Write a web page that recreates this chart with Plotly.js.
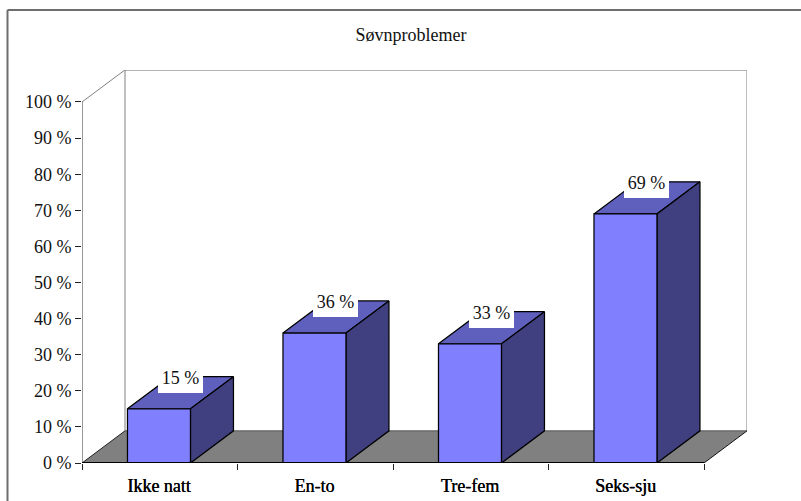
<!DOCTYPE html>
<html>
<head>
<meta charset="utf-8">
<script src="https://cdn.plot.ly/plotly-3.0.1.min.js"></script>
<style>html,body{margin:0;padding:0;background:#fff;overflow:hidden}</style>
</head>
<body>
<div id="chart" style="width:801px;height:501px"></div>
<script>
var chartTitle = "Søvnproblemer";
var categories = ["Ikke natt", "En-to", "Tre-fem", "Seks-sju"];
var values = [15, 36, 33, 69];
var labels = ["15 %", "36 %", "33 %", "69 %"];
var yTicks = [0, 10, 20, 30, 40, 50, 60, 70, 80, 90, 100];
var yTickLabels = ["0 %", "10 %", "20 %", "30 %", "40 %", "50 %", "60 %", "70 %", "80 %", "90 %", "100 %"];
var xBoundaries = [0, 1, 2, 3, 4];

var FONT = '"Liberation Serif","Times New Roman",serif';
var depthX = 0.2765, depthY = 8.9;       // oblique offset of the 3-D box, in axis units
var barW = 0.405, barC = 0.495;
var xMax = 4.2765, yMax = 108.86;
var C = {front: '#8080ff', top: '#5f5fbd', side: '#404080', floor: '#808080', wall: '#808080', wallR: '#bdbdbd'};

function poly(xs, ys, fill, lineColor, lineW, xa) {
  return {type: 'scatter', mode: 'lines', x: xs, y: ys, fill: fill ? 'toself' : 'none',
    fillcolor: fill || undefined, line: {color: lineColor, width: lineW}, hoverinfo: 'skip',
    showlegend: false, cliponaxis: false, xaxis: xa || 'x', yaxis: 'y'};
}

var traces = [];
// back walls
traces.push(poly([0, depthX, xMax, xMax], [100, 100 + depthY, 100 + depthY, depthY], null, C.wall, 1));
traces.push(poly([depthX, depthX], [100 + depthY, depthY], null, C.wall, 1));
traces.push(poly([xMax, xMax], [100 + depthY, depthY], null, C.wallR, 2));
traces.push(poly([depthX, xMax], [100 + depthY, 100 + depthY], null, C.wall, 1));
// floor
traces.push(poly([0, 4, xMax, depthX, 0], [0, 0, depthY, depthY, 0], C.floor, 'rgba(0,0,0,0)', 0));
traces.push(poly([depthX, xMax], [depthY, depthY], null, '#555555', 1));
traces.push(poly([0, depthX], [0, depthY], null, '#222222', 1));
traces.push(poly([4, xMax], [0, depthY], null, '#111111', 1));

// bars
values.forEach(function (v, i) {
  var a = i + barC - barW / 2, b = i + barC + barW / 2;
  traces.push(poly([a, b, b + depthX, a + depthX, a], [v, v, v + depthY, v + depthY, v], C.top, '#000000', 1.25));
  traces.push(poly([b, b + depthX, b + depthX, b, b], [0, depthY, v + depthY, v, 0], C.side, '#000000', 1.25));
  traces.push(poly([a, b, b, a, a], [0, 0, v, v, 0], C.front, '#000000', 1.25));
});

// axis lines and boundary ticks (second x axis carries the ticks)
traces.push(poly([0, 0], [0, 100], null, '#333333', 1, 'x2'));
traces.push(poly([0, 4], [0, 0], null, '#000000', 2, 'x2'));

var annotations = values.map(function (v, i) {
  return {x: i + barC + depthX / 2, y: v + depthY, xref: 'x', yref: 'y', text: labels[i],
    showarrow: false, bgcolor: '#ffffff', borderwidth: 0, width: 43, height: 24,
    xanchor: 'center', yanchor: 'middle', align: 'center', valign: 'top', yshift: -3,
    font: {family: FONT, size: 18, color: '#111111'}};
});

var layout = {
  width: 801, height: 501, autosize: false,
  margin: {l: 82, r: 54, t: 70, b: 38, pad: 0},
  paper_bgcolor: '#ffffff', plot_bgcolor: '#ffffff',
  showlegend: false, hovermode: false,
  font: {family: FONT, size: 18, color: '#111111'},
  title: {text: chartTitle, x: 411 / 801, xref: 'container', xanchor: 'center', y: 1 - 35 / 501, yref: 'container', yanchor: 'middle',
          font: {family: FONT, size: 18, color: '#111111'}},
  xaxis: {range: [0, xMax], tickmode: 'array',
          tickvals: categories.map(function (c, i) { return i + barC; }), ticktext: categories,
          ticks: '', showgrid: false, zeroline: false, showline: false, fixedrange: true, ticklabelstandoff: 10,
          tickfont: {family: FONT, size: 18, color: '#000000', shadow: '0.4px 0 0 #000'}, tickangle: 0},
  xaxis2: {range: [0, xMax], overlaying: 'x', side: 'bottom', anchor: 'y', tickmode: 'array',
           tickvals: xBoundaries, ticktext: xBoundaries.map(function () { return ''; }),
           ticks: 'outside', ticklen: 6, tickwidth: 1, tickcolor: '#222222',
           showgrid: false, zeroline: false, showline: false, fixedrange: true},
  yaxis: {range: [0, yMax], tickmode: 'array', tickvals: yTicks, ticktext: yTickLabels,
          ticks: 'outside', ticklen: 6, tickwidth: 1, tickcolor: '#222222',
          showgrid: false, zeroline: false, showline: false, fixedrange: true,
          tickfont: {family: FONT, size: 18, color: '#111111'}},
  annotations: annotations,
  shapes: [
    {type: 'line', xref: 'paper', yref: 'paper',
     x0: (7.5 - 82) / 665, x1: (801 - 82) / 665, y0: (463 - 10) / 393, y1: (463 - 10) / 393, line: {color: '#6e6e6e', width: 2}},
    {type: 'line', xref: 'paper', yref: 'paper',
     x0: (7.5 - 82) / 665, x1: (7.5 - 82) / 665, y0: (463 - 10) / 393, y1: (463 - 501) / 393, line: {color: '#6e6e6e', width: 2}}
  ]
};
Plotly.newPlot('chart', traces, layout, {displayModeBar: false, staticPlot: true});
</script>
</body>
</html>
